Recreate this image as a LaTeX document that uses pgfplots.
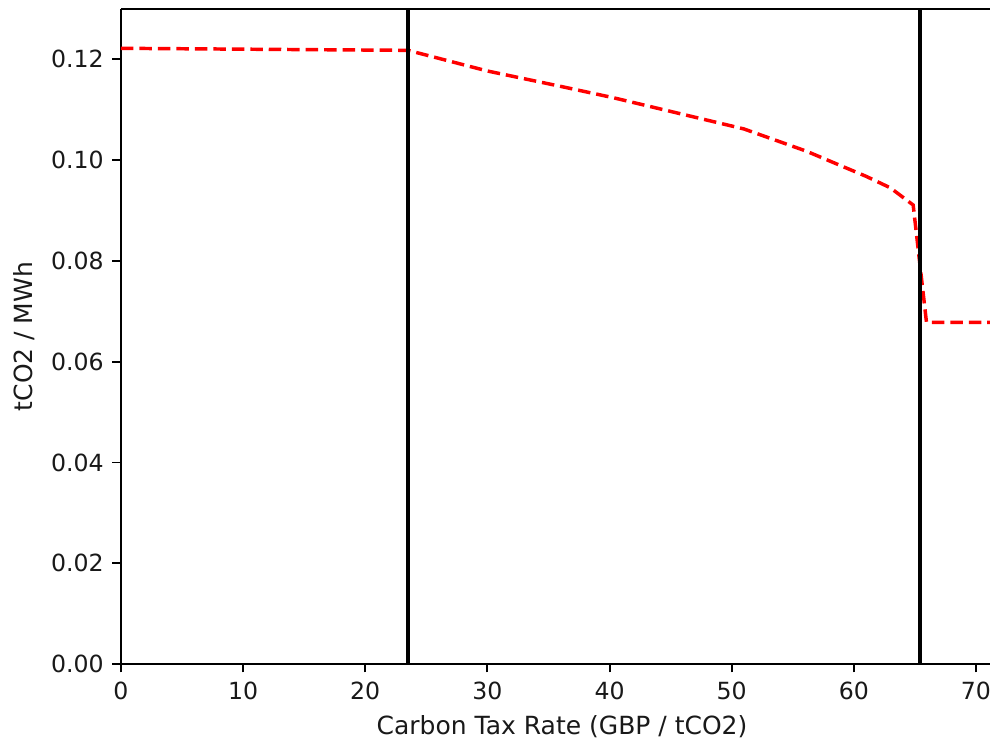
\documentclass[border=0pt]{standalone}
\usepackage{pgfplots}
\pgfplotsset{compat=1.18}
\usetikzlibrary{calc}
\usepackage{fontspec}
\setmainfont{DejaVu Sans}
\begin{document}
\begin{tikzpicture}
\begin{axis}[
  name=ax,
  scale only axis,
  width=625.7pt, height=471.6pt,
  xmin=0, xmax=71.15, ymin=0, ymax=0.13,
  axis x line*=box, axis y line*=left,
  xtick={0,10,...,70}, ytick={0,0.02,0.04,0.06,0.08,0.10,0.12},
  xtick pos=bottom, ytick pos=left,
  tick align=outside,
  major tick length=6.1pt,
  every tick/.style={black, line width=1.4pt},
  axis line style={line width=1.4pt},
  /pgf/number format/assume math mode=true,
  yticklabel style={/pgf/number format/fixed, /pgf/number format/fixed zerofill, /pgf/number format/precision=2, inner sep=0pt, anchor=east, xshift=-6.1pt},
  xticklabel style={inner sep=0pt, anchor=north, yshift=-6.6pt},
  scaled y ticks=false,
  ticklabel style={font=\fontsize{17}{20}\selectfont, text=black!90},
  label style={font=\fontsize{18}{21}\selectfont, text=black!90},
  xlabel={Carbon Tax Rate (GBP / tCO2)},
  ylabel={tCO2 / MWh},
  xlabel style={at={(axis description cs:0.5075,-0.0963)}, anchor=center},
  ylabel style={at={(axis description cs:-0.1115,0.5)}, anchor=center},
  clip=true,
]
\addplot[red, line width=2.5pt, dash pattern=on 9pt off 4.3pt] coordinates {
 (0,0.1222) (23.5,0.1218) (30,0.1177) (35.9,0.1147) (40.3,0.1124) (46,0.1091) (51,0.1062) (56.1,0.1018) (61,0.0968) (63,0.0945) (64.86,0.0911) (65.95,0.0678) (71.2,0.0678)
};
\addplot[black, line width=3pt] coordinates {(23.5,0) (23.5,0.13)};
\addplot[black, line width=3pt] coordinates {(65.45,0) (65.45,0.13)};
\end{axis}
\pgfresetboundingbox
\path[use as bounding box] ($(ax.south west)+(-87.1pt,-56.2pt)$) rectangle ($(ax.north east)+(0pt,6.5pt)$);
\end{tikzpicture}
\end{document}
